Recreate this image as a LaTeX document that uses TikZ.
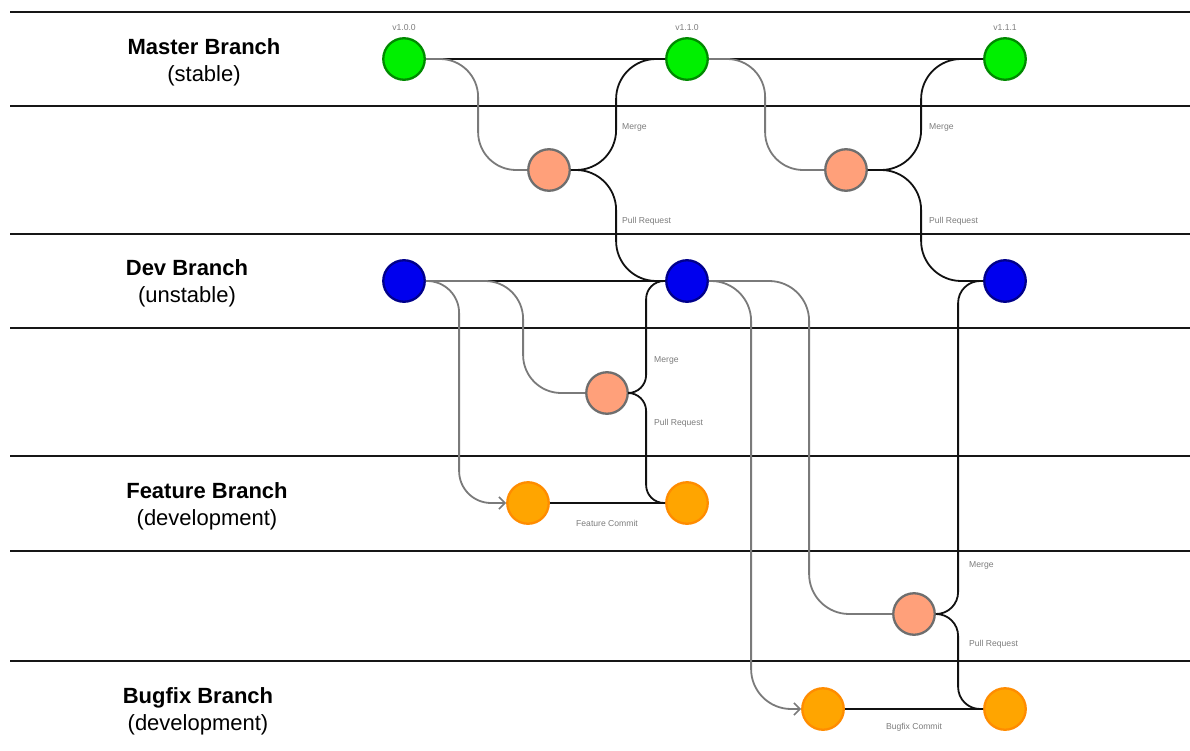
\documentclass[tikz,border=0pt]{standalone}
\usepackage{fontspec}
\setmainfont{Liberation Sans}
\usetikzlibrary{arrows.meta}

\definecolor{lane}{HTML}{161616}
\definecolor{linkblack}{HTML}{111111}
\definecolor{linkgray}{HTML}{7A7A7A}
\definecolor{notegray}{HTML}{7C7C7C}
\definecolor{cgreen}{HTML}{00F000}
\definecolor{cgreendark}{HTML}{008A00}
\definecolor{cblue}{HTML}{0000EE}
\definecolor{cbluedark}{HTML}{00008B}
\definecolor{csalmon}{HTML}{FFA07A}
\definecolor{csalmondark}{HTML}{6E6E6E}
\definecolor{corange}{HTML}{FFA500}
\definecolor{corangedark}{HTML}{FF8C00}

\begin{document}
\begin{tikzpicture}[x=1pt,y=-1pt,
  commit/.style={circle, minimum size=41.5pt, inner sep=0pt, line width=2.3pt},
  master/.style={commit, fill=cgreen, draw=cgreendark},
  dev/.style={commit, fill=cblue, draw=cbluedark},
  review/.style={commit, fill=csalmon, draw=csalmondark},
  work/.style={commit, fill=corange, draw=corangedark},
  lanerule/.style={draw=lane, line width=1.7pt},
  flow/.style={draw=linkblack, line width=1.8pt},
  fork/.style={draw=linkgray, line width=1.8pt},
  forkarrow/.style={fork, -{Straight Barb[length=6pt,width=12pt,line width=1.6pt]}},
  note/.style={font=\fontsize{8.6}{10}\selectfont, text=notegray, inner sep=0pt},
  branchname/.style={align=center, font=\fontsize{22}{27}\selectfont, inner sep=0pt}
]
\useasboundingbox (0,0) rectangle (1190,751);

% lane separators
\foreach \y in {12,106,234,328,456,551,661}
  \draw[lanerule] (10,\y) -- (1190,\y);

% branch names
\node[branchname] (nmaster)  at (204,62.5)  {\textbf{Master Branch}\\(stable)};
\node[branchname] (ndev)     at (187,283)   {\textbf{Dev Branch}\\(unstable)};
\node[branchname] (nfeature) at (207,506)   {\textbf{Feature Branch}\\(development)};
\node[branchname] (nbugfix)  at (198,711)   {\textbf{Bugfix Branch}\\(development)};

% commits
\node[master] (v100) at (404,59)  {};
\node[master] (v110) at (687,59)  {};
\node[master] (v111) at (1005,59) {};
\node[review] (p1) at (549,170) {};
\node[review] (p2) at (846,170) {};
\node[dev] (b1) at (404,281)  {};
\node[dev] (b2) at (687,281)  {};
\node[dev] (b3) at (1005,281) {};
\node[review] (p3) at (607,393) {};
\node[work] (f1) at (528,503) {};
\node[work] (f2) at (687,503) {};
\node[review] (p4) at (914,614) {};
\node[work] (g1) at (823,709)  {};
\node[work] (g2) at (1005,709) {};

% version tags
\node[note] (t100) at (404,28)  {v1.0.0};
\node[note] (t110) at (687,28)  {v1.1.0};
\node[note] (t111) at (1005,28) {v1.1.1};

% master history
\draw[flow] (v100) -- (v110);
\draw[flow] (v110) -- (v111);

% first release cycle
\draw[fork, rounded corners=38pt] (v100.east) -| ([xshift=-49pt]p1.west) -- (p1.west);
\draw[flow, rounded corners=40pt] (p1.east) -| ([xshift=-49pt]v110.west) -- (v110.west);
\draw[flow, rounded corners=40pt] (p1.east) -| ([xshift=-49pt]b2.west) -- (b2.west);
\node[note, anchor=west] (m1)  at (622,127) {Merge};
\node[note, anchor=west] (pr1) at (622,221) {Pull Request};

% second release cycle
\draw[fork, rounded corners=38pt] (v110.east) -| ([xshift=-59pt]p2.west) -- (p2.west);
\draw[flow, rounded corners=40pt] (p2.east) -| ([xshift=-62pt]v111.west) -- (v111.west);
\draw[flow, rounded corners=40pt] (p2.east) -| ([xshift=-62pt]b3.west) -- (b3.west);
\node[note, anchor=west] (m2)  at (929,127) {Merge};
\node[note, anchor=west] (pr2) at (929,221) {Pull Request};

% dev history
\draw[flow] (b1) -- (b2);

% feature work
\draw[fork, rounded corners=38pt] (b1.east) -| ([xshift=-62pt]p3.west) -- (p3.west);
\draw[forkarrow, rounded corners=32pt] (b1.east) -| ([xshift=-47pt]f1.west) -- (f1.west);
\draw[flow, rounded corners=18pt] (p3.east) -| ([xshift=-19pt]b2.west) -- (b2.west);
\draw[flow, rounded corners=18pt] (p3.east) -| ([xshift=-19pt]f2.west) -- (f2.west);
\draw[flow] (f1) -- (f2);
\node[note, anchor=west] (m3)  at (654,360) {Merge};
\node[note, anchor=west] (pr3) at (654,423) {Pull Request};
\node[note] (fc) at (607,523) {Feature Commit};

% bugfix work
\draw[fork, rounded corners=40pt] (b2.east) -| ([xshift=-83pt]p4.west) -- (p4.west);
\draw[forkarrow, rounded corners=40pt] (b2.east) -| ([xshift=-50pt]g1.west) -- (g1.west);
\draw[flow, rounded corners=22pt] (p4.east) -| ([xshift=-25pt]b3.west) -- (b3.west);
\draw[flow, rounded corners=22pt] (p4.east) -| ([xshift=-25pt]g2.west) -- (g2.west);
\draw[flow] (g1) -- (g2);
\node[note, anchor=west] (m4)  at (969,565) {Merge};
\node[note, anchor=west] (pr4) at (969,644) {Pull Request};
\node[note] (bc) at (914,727) {Bugfix Commit};
\end{tikzpicture}
\end{document}
